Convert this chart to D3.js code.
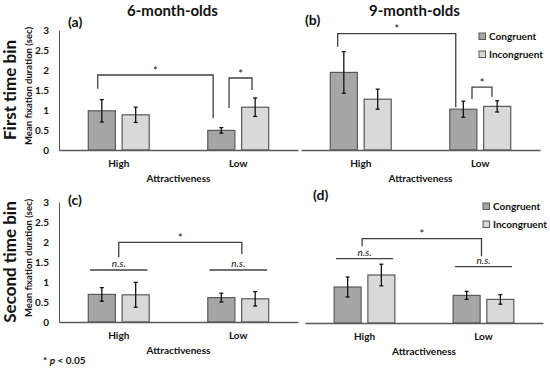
<!DOCTYPE html>
<html>
<head>
<meta charset="utf-8">
<script src="https://cdn.jsdelivr.net/npm/d3@7"></script>
<style>
  body { margin: 0; background: #fff; }
  text { font-family: Lato, "Open Sans", sans-serif; fill: #111; }
</style>
</head>
<body>
<svg id="chart" width="550" height="371"></svg>
<script>
// categories / series / ticks
const categories = ["High", "Low"];
const seriesNames = ["Congruent", "Incongruent"];
const yTicks = [0, 0.5, 1, 1.5, 2, 2.5, 3];
const yTickLabels = ["0", "0.5", "1", "1.5", "2", "2.5", "3"];

// means and error (sec), ordered [High, Low]
const a_congruent = [0.98, 0.49];
const a_incongruent = [0.88, 1.07];
const a_congruentErr = [0.28, 0.07];
const a_incongruentErr = [0.19, 0.23];

const b_congruent = [1.94, 1.02];
const b_incongruent = [1.27, 1.09];
const b_congruentErr = [0.52, 0.2];
const b_incongruentErr = [0.25, 0.14];

const c_congruent = [0.69, 0.61];
const c_incongruent = [0.68, 0.58];
const c_congruentErr = [0.17, 0.11];
const c_incongruentErr = [0.31, 0.18];

const d_congruent = [0.9, 0.69];
const d_incongruent = [1.2, 0.59];
const d_congruentErr = [0.25, 0.1];
const d_incongruentErr = [0.27, 0.12];

// significance brackets: ends as [category, shift in band steps], heights in sec
const a_brackets = [
  { from: ["High", -0.176], to: ["Low", -0.21], top: 1.875, left: 1.53, right: 0.8, label: "*" },
  { from: ["Low", -0.077], to: ["Low", 0.115], top: 1.8, left: 1.05, right: 1.5, label: "*" }
];
const b_brackets = [
  { from: ["High", -0.193], to: ["Low", -0.205], top: 2.91, left: 2.58, right: 1.07, label: "*" },
  { from: ["Low", -0.069], to: ["Low", 0.098], top: 1.57, left: 1.275, right: 1.33, label: "*" }
];
const c_brackets = [
  { from: ["High", 0], to: ["Low", 0.03], top: 1.99, left: 1.62, right: 1.7, label: "*" }
];
const d_brackets = [
  { from: ["High", -0.02], to: ["Low", -0.017], top: 2.11, left: 1.92, right: 1.67, label: "*" }
];
const c_ns = [{ cat: "High", y: 1.3 }, { cat: "Low", y: 1.3 }];
const d_ns = [{ cat: "High", y: 1.61 }, { cat: "Low", y: 1.41 }];

const colors = { Congruent: "#a6a6a6", Incongruent: "#d9d9d9" };

const panels = [
  { tag: "(a)", title: "6-month-olds", x0: 59, x1: 298, base: 150, axis: true, row: "First time bin",
    c: a_congruent, i: a_incongruent, ce: a_congruentErr, ie: a_incongruentErr, brackets: a_brackets, ns: [],
    tagPos: [68, 27], legend: null },
  { tag: "(b)", title: "9-month-olds", x0: 301, x1: 540, base: 150, axis: false,
    c: b_congruent, i: b_incongruent, ce: b_congruentErr, ie: b_incongruentErr, brackets: b_brackets, ns: [],
    tagPos: [305, 25], legend: [479, 33] },
  { tag: "(c)", title: null, x0: 59, x1: 298, base: 322, axis: true, row: "Second time bin",
    c: c_congruent, i: c_incongruent, ce: c_congruentErr, ie: c_incongruentErr, brackets: c_brackets, ns: c_ns,
    tagPos: [68, 205], legend: null },
  { tag: "(d)", title: null, x0: 305, x1: 543, base: 323, axis: false,
    c: d_congruent, i: d_incongruent, ce: d_congruentErr, ie: d_incongruentErr, brackets: d_brackets, ns: d_ns,
    tagPos: [313, 200], legend: [483, 203] }
];

const svg = d3.select("#chart");

panels.forEach((p) => {
  const g = svg.append("g");
  const x = d3.scaleBand().domain(categories).range([p.x0, p.x1]).paddingInner(0.49).paddingOuter(0.245);
  const xs = d3.scaleBand().domain(seriesNames).range([0, x.bandwidth()]).paddingInner(0.2);
  const y = d3.scaleLinear().domain([0, 3]).range([p.base, p.base - 120]);
  const cx = (cat, shift) => x(cat) + x.bandwidth() / 2 + shift * x.step();

  const rows = categories.map((cat, k) => ({
    cat,
    bars: [
      { s: "Congruent", v: p.c[k], e: p.ce[k] },
      { s: "Incongruent", v: p.i[k], e: p.ie[k] }
    ]
  }));

  // y axis
  if (p.axis) {
    const ya = g.append("g")
      .attr("transform", `translate(${p.x0},0)`)
      .call(d3.axisLeft(y).tickValues(yTicks).tickFormat((d, k) => yTickLabels[k]).tickSize(0).tickSizeOuter(0).tickPadding(10));
    ya.select(".domain").attr("stroke", "#595959").attr("stroke-width", 1);
    ya.selectAll("text").style("font-family", "Lato, sans-serif").style("font-size", "10px").style("font-weight", "bold").attr("fill", "#111");

    g.append("text")
      .attr("transform", `translate(31.5,${p.base - 64}) rotate(-90)`)
      .attr("text-anchor", "middle")
      .style("font-size", "9.5px").style("font-weight", "bold")
      .text("Mean fixation duration (sec)");
    g.append("text")
      .attr("transform", `translate(16,${p.base - 60}) rotate(-90)`)
      .attr("text-anchor", "middle")
      .style("font-size", "17px").style("font-weight", "bold")
      .text(p.row);
  }

  // bars
  const grp = g.selectAll(".grp").data(rows).join("g")
    .attr("transform", (d) => `translate(${x(d.cat)},0)`);
  grp.selectAll("rect").data((d) => d.bars).join("rect")
    .attr("x", (d) => xs(d.s))
    .attr("y", (d) => y(d.v))
    .attr("width", xs.bandwidth())
    .attr("height", (d) => y(0) - y(d.v))
    .attr("fill", (d) => colors[d.s])
    .attr("stroke", "#595959").attr("stroke-width", 1.2);

  // error bars
  const eb = grp.selectAll(".err").data((d) => d.bars).join("g")
    .attr("stroke", "#111").attr("stroke-width", 1.3);
  eb.append("line")
    .attr("x1", (d) => xs(d.s) + xs.bandwidth() / 2).attr("x2", (d) => xs(d.s) + xs.bandwidth() / 2)
    .attr("y1", (d) => y(d.v + d.e)).attr("y2", (d) => y(d.v - d.e));
  [1, -1].forEach((sg) => {
    eb.append("line")
      .attr("x1", (d) => xs(d.s) + xs.bandwidth() / 2 - 2).attr("x2", (d) => xs(d.s) + xs.bandwidth() / 2 + 2)
      .attr("y1", (d) => y(d.v + sg * d.e)).attr("y2", (d) => y(d.v + sg * d.e));
  });

  // x axis
  const xa = g.append("g")
    .attr("transform", `translate(0,${p.base})`)
    .call(d3.axisBottom(x).tickSize(0).tickSizeOuter(0).tickPadding(10));
  xa.select(".domain").attr("stroke", "#595959").attr("stroke-width", 1.3);
  xa.selectAll("text").style("font-family", "Lato, sans-serif").style("font-size", "10px").style("font-weight", "bold").attr("fill", "#111");

  g.append("text")
    .attr("x", (p.x0 + p.x1) / 2).attr("y", p.base + 32)
    .attr("text-anchor", "middle")
    .style("font-size", "10px").style("font-weight", "bold")
    .text("Attractiveness");

  // significance brackets
  p.brackets.forEach((b) => {
    const xl = cx(b.from[0], b.from[1]);
    const xr = cx(b.to[0], b.to[1]);
    g.append("path")
      .attr("d", `M${xl},${y(b.left)}V${y(b.top)}H${xr}V${y(b.right)}`)
      .attr("fill", "none").attr("stroke", "#404040").attr("stroke-width", 1.3);
    g.append("text")
      .attr("x", (xl + xr) / 2).attr("y", y(b.top) - 0.5)
      .attr("text-anchor", "middle")
      .style("font-size", "11px")
      .text(b.label);
  });
  p.ns.forEach((n) => {
    g.append("line")
      .attr("x1", cx(n.cat, -0.24)).attr("x2", cx(n.cat, 0.24))
      .attr("y1", y(n.y)).attr("y2", y(n.y))
      .attr("stroke", "#404040").attr("stroke-width", 1.3);
    g.append("text")
      .attr("x", cx(n.cat, 0)).attr("y", y(n.y) - 3)
      .attr("text-anchor", "middle")
      .style("font-size", "10px").style("font-style", "italic")
      .text("n.s.");
  });

  // titles
  if (p.title) {
    g.append("text")
      .attr("x", (p.x0 + p.x1) / 2 - 6).attr("y", 16)
      .attr("text-anchor", "middle")
      .style("font-size", "15px").style("font-weight", "bold")
      .text(p.title);
  }
  g.append("text")
    .attr("x", p.tagPos[0]).attr("y", p.tagPos[1])
    .style("font-size", "14px").style("font-weight", "bold")
    .text(p.tag);

  // legend
  if (p.legend) {
    const lg = g.append("g").attr("transform", `translate(${p.legend[0]},${p.legend[1]})`);
    const it = lg.selectAll("g").data(seriesNames).join("g")
      .attr("transform", (d, k) => `translate(0,${k * 18})`);
    it.append("rect").attr("width", 6.5).attr("height", 6.5)
      .attr("fill", (d) => colors[d]).attr("stroke", "#595959").attr("stroke-width", 1);
    it.append("text").attr("x", 10).attr("y", 7)
      .style("font-size", "10px").style("font-weight", "bold")
      .text((d) => d);
  }
});

// footnote
const fn = svg.append("text").attr("x", 43).attr("y", 364).style("font-size", "10px").style("font-weight", "bold");
fn.append("tspan").text("* ");
fn.append("tspan").style("font-style", "italic").text("p");
fn.append("tspan").text(" < 0.05");
</script>
</body>
</html>
